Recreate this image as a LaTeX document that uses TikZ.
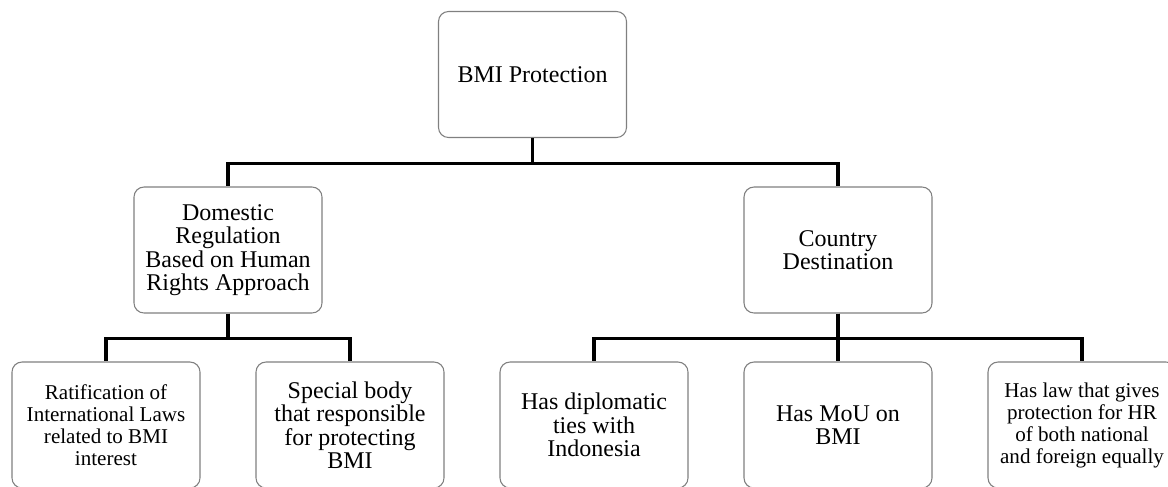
\documentclass[tikz,border=0pt]{standalone}
\usepackage{fontspec}
\setmainfont{Liberation Serif}
\definecolor{boxgray}{HTML}{808080}
\begin{document}
\begin{tikzpicture}[x=0.75pt,y=-0.75pt,
  box/.style={draw=boxgray, line width=0.8pt, rounded corners=7.5pt, fill=white,
    minimum width=141pt, minimum height=94.5pt, align=center, inner sep=0pt},
  big/.style={font=\fontsize{18}{17.6}\selectfont},
  small/.style={font=\fontsize{15.8}{16.5}\selectfont},
  conn/.style={draw=black, line width=2.3pt}]
\useasboundingbox (0,0) rectangle (1168,486);
\clip (0,0) rectangle (1168,486);
% nodes
\node[box,big] (top) at (532.5,74.5) {BMI Protection};
\node[box,big] (dom) at (228,250) {Domestic\\Regulation\\Based on Human\\Rights Approach};
\node[box,big] (cty) at (838,250) {Country\\Destination};
\node[box,small] (rat) at (106,425) {Ratification of\\International Laws\\related to BMI\\interest};
\node[box,big] (spc) at (350,425) {Special body\\that responsible\\for protecting\\BMI};
\node[box,big] (dip) at (594,425) {Has diplomatic\\ties with\\Indonesia};
\node[box,big] (mou) at (838,425) {Has MoU on\\BMI};
\node[box,small] (law) at (1082,425) {Has law that gives\\protection for HR\\of both national\\and foreign equally};
% connectors
\draw[conn] (top.south) -- ++(0,25) -| (dom.north);
\draw[conn] (top.south) -- ++(0,25) -| (cty.north);
\draw[conn] (dom.south) -- ++(0,24.5) -| (rat.north);
\draw[conn] (dom.south) -- ++(0,24.5) -| (spc.north);
\draw[conn] (cty.south) -- ++(0,24.5) -| (dip.north);
\draw[conn] (cty.south) -- (mou.north);
\draw[conn] (cty.south) -- ++(0,24.5) -| (law.north);
\end{tikzpicture}
\end{document}
